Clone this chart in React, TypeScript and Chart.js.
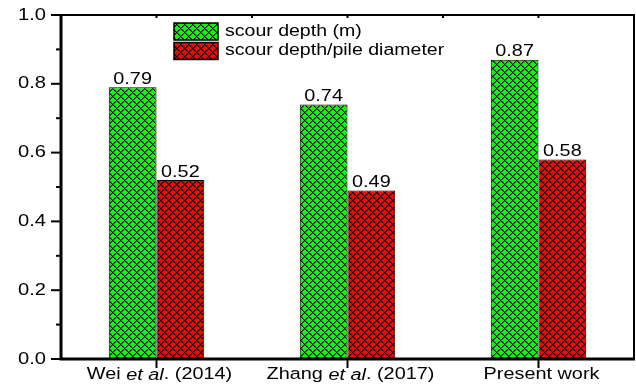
import React, { useEffect, useRef } from 'react';
import { Chart, registerables } from 'chart.js';

Chart.register(...registerables);

// ---- data ----
const categories: string[] = ['Wei et al. (2014)', 'Zhang et al. (2017)', 'Present work'];
// label text split into [text, italic] runs
const categoryLabelParts: [string, boolean][][] = [
  [['Wei ', false], ['et al', true], ['. (2014)', false]],
  [['Zhang ', false], ['et al', true], ['. (2017)', false]],
  [['Present work', false]],
];
const seriesNames: string[] = ['scour depth (m)', 'scour depth/pile diameter'];
const scourDepth: number[] = [0.79, 0.74, 0.87];
const scourDepthRatio: number[] = [0.52, 0.49, 0.58];
const seriesColors: string[] = ['#00ff00', '#ff0000'];
const yMajorTicks: number[] = [0, 0.2, 0.4, 0.6, 0.8, 1.0];
const yMinorTicks: number[] = [0.1, 0.3, 0.5, 0.7, 0.9];

const SX = 1.22; // horizontal text stretch seen in the reference
const FONT = '"Liberation Sans", Arial, sans-serif';

function makePattern(color: string): CanvasPattern | string {
  const c = document.createElement('canvas');
  const s = 8;
  c.width = s;
  c.height = s;
  const g = c.getContext('2d');
  if (!g) return color;
  g.fillStyle = color;
  g.fillRect(0, 0, s, s);
  for (let x = 0; x < s; x++) {
    for (let y = 0; y < s; y++) {
      const a = (x - y + s) % s;
      const b = (x + y) % s;
      if (a === 0 || b === 0) {
        g.fillStyle = '#000';
        g.fillRect(x, y, 1, 1);
      } else if (a === 1 || b === 1) {
        g.fillStyle = 'rgba(0,0,0,0.45)';
        g.fillRect(x, y, 1, 1);
      }
    }
  }
  const p = g.createPattern(c, 'repeat');
  return p || color;
}

function drawText(
  ctx: CanvasRenderingContext2D,
  parts: [string, boolean][],
  x: number,
  y: number,
  size: number,
  align: 'left' | 'center' | 'right'
) {
  ctx.save();
  const widths = parts.map(([t, it]) => {
    ctx.font = `${it ? 'italic ' : ''}${size}px ${FONT}`;
    return ctx.measureText(t).width;
  });
  const total = widths.reduce((a, b) => a + b, 0) * SX;
  const x0 = align === 'center' ? x - total / 2 : align === 'right' ? x - total : x;
  ctx.translate(x0, y);
  ctx.scale(SX, 1);
  ctx.fillStyle = '#000';
  ctx.textBaseline = 'middle';
  ctx.textAlign = 'left';
  let off = 0;
  parts.forEach(([t, it], i) => {
    ctx.font = `${it ? 'italic ' : ''}${size}px ${FONT}`;
    ctx.fillText(t, off, 0);
    off += widths[i];
  });
  ctx.restore();
}

const decorPlugin = {
  id: 'decor',
  afterDatasetsDraw(chart: any) {
    const ctx: CanvasRenderingContext2D = chart.ctx;
    const area = chart.chartArea;
    const xs = chart.scales.x;
    const ys = chart.scales.y;

    // value labels above bars
    chart.data.datasets.forEach((ds: any, di: number) => {
      const meta = chart.getDatasetMeta(di);
      meta.data.forEach((bar: any, i: number) => {
        const v = ds.data[i] as number;
        drawText(ctx, [[v.toFixed(2), false]], bar.x, bar.y - 8, 16.3, 'center');
      });
    });

    ctx.save();
    ctx.strokeStyle = '#000';
    // frame
    ctx.lineWidth = 2;
    ctx.beginPath();
    ctx.moveTo(area.left, area.top);
    ctx.lineTo(area.right, area.top);
    ctx.lineTo(area.right, area.bottom);
    ctx.stroke();
    ctx.lineWidth = 3;
    ctx.beginPath();
    ctx.moveTo(area.left, area.top - 1);
    ctx.lineTo(area.left, area.bottom);
    ctx.lineTo(area.right + 1, area.bottom);
    ctx.stroke();

    // y ticks
    ctx.lineWidth = 2;
    yMajorTicks.forEach((v) => {
      const py = ys.getPixelForValue(v);
      ctx.beginPath();
      ctx.moveTo(area.left - 10, py);
      ctx.lineTo(area.left, py);
      ctx.stroke();
    });
    yMinorTicks.forEach((v) => {
      const py = ys.getPixelForValue(v);
      ctx.beginPath();
      ctx.moveTo(area.left - 5, py);
      ctx.lineTo(area.left, py);
      ctx.stroke();
    });

    // x ticks (bottom major at categories, top minor incl. boundaries)
    categories.forEach((_, i) => {
      const px = xs.getPixelForValue(i);
      ctx.beginPath();
      ctx.moveTo(px, area.bottom);
      ctx.lineTo(px, area.bottom + 9);
      ctx.stroke();
    });
    const topTicks: number[] = [];
    categories.forEach((_, i) => {
      topTicks.push(xs.getPixelForValue(i));
      if (i < categories.length - 1) topTicks.push(xs.getPixelForValue(i + 0.5));
    });
    topTicks.forEach((px) => {
      ctx.beginPath();
      ctx.moveTo(px, area.top);
      ctx.lineTo(px, area.top + 3);
      ctx.stroke();
    });
    ctx.restore();

    // y tick labels
    yMajorTicks.forEach((v) => {
      drawText(ctx, [[v.toFixed(1), false]], area.left - 15, ys.getPixelForValue(v), 16.5, 'right');
    });

    // x labels
    categoryLabelParts.forEach((parts, i) => {
      drawText(ctx, parts, xs.getPixelForValue(i) + 3, area.bottom + 16, 16.3, 'center');
    });

    // legend
    const lx = 174;
    const lw = 44;
    const lh = 17;
    const rows = [23, 42.5];
    chart.data.datasets.forEach((ds: any, di: number) => {
      const ty = rows[di];
      ctx.save();
      ctx.fillStyle = ds.backgroundColor;
      ctx.fillRect(lx, ty, lw, lh);
      ctx.strokeStyle = '#000';
      ctx.lineWidth = 1.5;
      ctx.strokeRect(lx, ty, lw, lh);
      ctx.restore();
      drawText(ctx, [[seriesNames[di], false]], lx + 51, ty + lh / 2, 16, 'left');
    });
  },
};

export default function App() {
  const canvasRef = useRef<HTMLCanvasElement | null>(null);

  useEffect(() => {
    document.body.style.margin = '0';
    const canvas = canvasRef.current;
    if (!canvas) return;
    const chart = new Chart(canvas, {
      type: 'bar',
      data: {
        labels: categories,
        datasets: [
          {
            label: seriesNames[0],
            data: scourDepth,
            backgroundColor: makePattern(seriesColors[0]) as any,
            borderColor: '#000',
            borderWidth: 1,
            barPercentage: 1,
            categoryPercentage: 0.5,
          },
          {
            label: seriesNames[1],
            data: scourDepthRatio,
            backgroundColor: makePattern(seriesColors[1]) as any,
            borderColor: '#000',
            borderWidth: 1,
            barPercentage: 1,
            categoryPercentage: 0.5,
          },
        ],
      },
      options: {
        responsive: false,
        animation: false,
        layout: { padding: { top: 15, right: 2, left: 0, bottom: 0 } },
        plugins: { legend: { display: false }, tooltip: { enabled: false } },
        scales: {
          x: {
            grid: { display: false, drawTicks: false },
            border: { display: false },
            ticks: { display: false },
            afterFit: (s: any) => {
              s.height = 28;
            },
          },
          y: {
            min: 0,
            max: 1,
            grid: { display: false, drawTicks: false },
            border: { display: false },
            ticks: { display: false, stepSize: 0.2 },
            afterFit: (s: any) => {
              s.width = 61;
            },
          },
        },
      },
      plugins: [decorPlugin],
    });
    return () => chart.destroy();
  }, []);

  return (
    <div style={{ position: 'absolute', left: 0, top: 0, width: 636, height: 387, background: '#fff' }}>
      <canvas ref={canvasRef} width={636} height={387} style={{ display: 'block' }} />
    </div>
  );
}
